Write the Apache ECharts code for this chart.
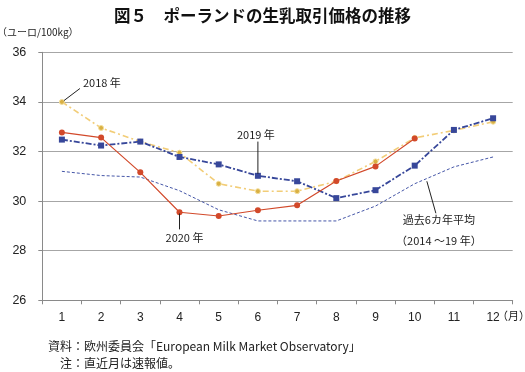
<!DOCTYPE html>
<html>
<head>
<meta charset="utf-8">
<script src="https://cdn.jsdelivr.net/npm/echarts@6/dist/echarts.min.js"></script>
<style>
html,body{margin:0;padding:0;background:#fff;}
#chart{width:525px;height:372px;}
</style>
</head>
<body>
<div id="chart"></div>
<script>
// ---- data ----
const months = ['1','2','3','4','5','6','7','8','9','10','11','12'];
const y2018 = [34.0, 32.95, 32.4, 31.95, 30.7, 30.4, 30.4, 30.8, 31.6, 32.55, 32.85, 33.2];
const y2019 = [32.48, 32.24, 32.4, 31.78, 31.48, 31.02, 30.8, 30.12, 30.44, 31.43, 32.87, 33.34];
const y2020 = [32.77, 32.56, 31.16, 29.55, 29.4, 29.63, 29.83, 30.81, 31.4, 32.52, null, null];
const avg1419 = [31.2, 31.03, 30.97, 30.42, 29.65, 29.2, 29.2, 29.2, 29.8, 30.7, 31.38, 31.78];
const yTicks = {min: 26, max: 36, interval: 2};

// annotation leader lines (data coordinates: month position, value)
const ann2018 = [[1.05, 34.05], [1.46, 34.54]];
const ann2019 = [[6.0, 31.1], [6.0, 32.4]];
const ann2020 = [[4.0, 29.5], [4.0, 28.86]];
const annAvg = [[10.31, 30.8], [10.54, 29.51]];

const CJK = '"Noto Sans CJK JP", sans-serif';
const LAT = '"Liberation Sans", Arial, sans-serif';

function leader(pts, text, label) {
  return {
    type: 'line',
    xAxisIndex: 1,
    yAxisIndex: 0,
    silent: true,
    symbol: 'circle',
    symbolSize: 0.1,
    itemStyle: {color: 'transparent'},
    lineStyle: {color: '#222', width: 1},
    emphasis: {disabled: true},
    z: 5,
    data: [
      {value: pts[0]},
      {value: pts[1], label: Object.assign({
        show: true, formatter: text, color: '#222',
        fontFamily: CJK, fontSize: 11
      }, label)}
    ]
  };
}

const chart = echarts.init(document.getElementById('chart'), null, {renderer: 'canvas'});
chart.setOption({
  animation: false,
  backgroundColor: '#fff',
  title: {
    text: '図５　ポーランドの生乳取引価格の推移',
    left: 'center',
    top: 2,
    textStyle: {fontFamily: CJK, fontSize: 16.5, fontWeight: 'bold', color: '#111'}
  },
  grid: {left: 42.3, right: 12.3, top: 52.3, bottom: 71.7, containLabel: false},
  xAxis: [{
    type: 'category',
    data: months,
    boundaryGap: true,
    axisLine: {lineStyle: {color: '#8a8a8a', width: 1}},
    axisTick: {show: true, length: 4, lineStyle: {color: '#8a8a8a'}},
    axisLabel: {color: '#222', fontFamily: LAT, fontSize: 12, margin: 11},
    splitLine: {show: false}
  }, {
    type: 'value',
    min: 0.5, max: 12.5,
    show: false,
    gridIndex: 0
  }],
  yAxis: {
    type: 'value',
    min: yTicks.min, max: yTicks.max, interval: yTicks.interval,
    axisLine: {show: true, lineStyle: {color: '#8a8a8a', width: 1}},
    axisTick: {show: true, length: 4, lineStyle: {color: '#8a8a8a'}},
    axisLabel: {color: '#222', fontFamily: LAT, fontSize: 12.5, margin: 16},
    splitLine: {show: true, lineStyle: {color: '#a6a6a6', width: 1}}
  },
  series: [
    {
      name: '過去6カ年平均', type: 'line', data: avg1419,
      symbol: 'none', z: 2,
      lineStyle: {color: '#4657a8', width: 1, type: [3, 2]}
    },
    {
      name: '2018', type: 'line', data: y2018,
      symbol: 'circle', symbolSize: 5, z: 3,
      itemStyle: {color: '#d9b043', borderColor: '#f3de9c', borderWidth: 1},
      lineStyle: {color: '#f2cd78', width: 1.6, type: [6, 3, 2, 3]}
    },
    {
      name: '2019', type: 'line', data: y2019,
      symbol: 'rect', symbolSize: 6, z: 4,
      itemStyle: {color: '#37479a'},
      lineStyle: {color: '#37479a', width: 1.8, type: [6, 2, 2, 2]}
    },
    {
      name: '2020', type: 'line', data: y2020,
      symbol: 'circle', symbolSize: 6, z: 4,
      itemStyle: {color: '#d2492a'},
      lineStyle: {color: '#d2492a', width: 1.2}
    },
    leader(ann2018, '2018 年', {position: 'right', distance: 3, offset: [0, -6]}),
    leader(ann2019, '2019 年', {position: 'top', distance: 1, offset: [-2, 0]}),
    leader(ann2020, '2020 年', {position: 'bottom', distance: 3, offset: [5, 0]}),
    leader(annAvg, '過去6カ年平均\n（2014 ～19 年）', {position: 'bottom', distance: -4, offset: [3, 0], lineHeight: 21, align: 'center'})
  ],
  graphic: [
    {type: 'text', left: -3, top: 27, style: {text: '（ユーロ/100kg）', font: '10px ' + CJK, fill: '#222'}},
    {type: 'text', left: 497, top: 310, style: {text: '（月）', font: '11px ' + CJK, fill: '#222'}},
    {type: 'text', left: 48, top: 340, style: {text: '資料：欧州委員会「European Milk Market Observatory」', font: '12px ' + CJK, fill: '#222'}},
    {type: 'text', left: 60, top: 357, style: {text: '注：直近月は速報値。', font: '12px ' + CJK, fill: '#222'}}
  ]
});
</script>
</body>
</html>
